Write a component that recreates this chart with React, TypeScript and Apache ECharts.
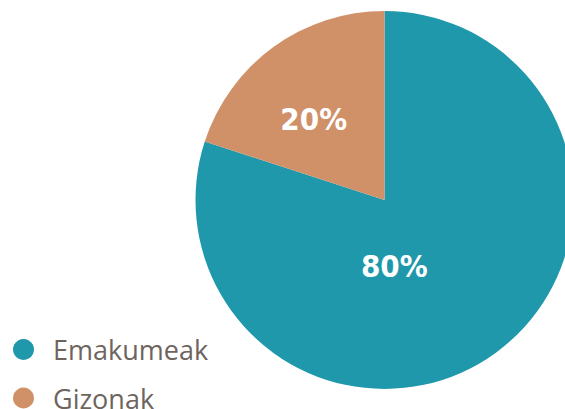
import React, { useEffect, useRef } from "react";
import * as echarts from "echarts";

const categories = ["Emakumeak", "Gizonak"];
const values = [80, 20];
const colors = ["#1F98AB", "#D09068"];
const labelOffsets: [number, number][] = [[-47.5, -12.5], [-13.5, -2.5]];

export default function App() {
  const ref = useRef<HTMLDivElement>(null);
  useEffect(() => {
    if (!ref.current) return;
    const chart = echarts.init(ref.current, undefined, { renderer: "svg" });
    chart.setOption({
      animation: false,
      backgroundColor: "#ffffff",
      legend: {
        orient: "vertical",
        left: 8,
        top: 331,
        height: 120,
        icon: "circle",
        itemWidth: 21,
        itemHeight: 21,
        itemGap: 21.5,
        data: categories,
        textStyle: {
          fontFamily: "Open Sans",
          fontSize: 27,
          lineHeight: 21,
          color: "#6E645E",
          padding: [0, 0, 0, 14],
        },
      },
      series: [
        {
          type: "pie",
          center: [384.5, 200],
          radius: [0, 189],
          startAngle: 90,
          clockwise: true,
          silent: true,
          labelLine: { show: false },
          label: {
            show: true,
            position: "inside",
            formatter: "{c}%",
            color: "#ffffff",
            fontFamily: "'Liberation Sans Narrow', 'DejaVu Sans Condensed', 'DejaVu Sans', sans-serif",
            fontWeight: "bold",
            fontSize: 31,
          },
          data: categories.map((name, i) => ({
            name,
            value: values[i],
            itemStyle: { color: colors[i] },
            label: { offset: labelOffsets[i] },
          })),
        },
      ],
    });
    return () => chart.dispose();
  }, []);
  return (
    <div
      ref={ref}
      style={{ position: "fixed", left: 0, top: 0, width: 565, height: 409 }}
    />
  );
}
